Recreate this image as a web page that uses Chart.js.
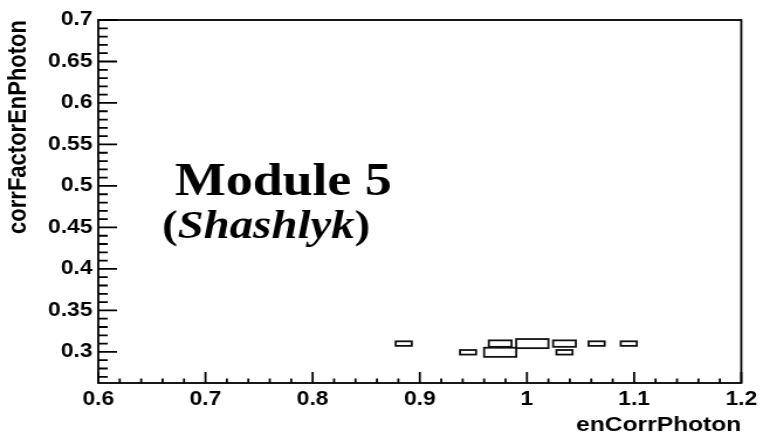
<!DOCTYPE html>
<html>
<head>
<meta charset="utf-8">
<script src="https://cdn.jsdelivr.net/npm/chart.js@4.4.0/dist/chart.umd.min.js"></script>
<style>
  html, body { margin: 0; padding: 0; background: #ffffff; overflow: hidden; }
  #c { display: block; width: 763px !important; height: 440px !important; }
</style>
</head>
<body>
<canvas id="c" width="652" height="440" style="width:763px;height:440px"></canvas>
<script>
// ---- data (TH2 box plot: bin centres and bin contents) ----
const xBinCenters = [0.885, 0.945, 0.975, 0.975, 1.005, 1.035, 1.035, 1.065, 1.095];
const yBinCenters = [0.310, 0.2995, 0.310, 0.2995, 0.310, 0.310, 0.2995, 0.310, 0.310];
const binCounts   = [1, 1, 2, 4, 4, 2, 1, 1, 1];
const xBinWidth = 0.03;
const yBinWidth = 0.011;

// ---- axes ----
const xTickValues = [0.6, 0.7, 0.8, 0.9, 1.0, 1.1, 1.2];
const xTickLabels = ['0.6', '0.7', '0.8', '0.9', '1', '1.1', '1.2'];
const yTickValues = [0.3, 0.35, 0.4, 0.45, 0.5, 0.55, 0.6, 0.65, 0.7];
const yTickLabels = ['0.3', '0.35', '0.4', '0.45', '0.5', '0.55', '0.6', '0.65', '0.7'];
const xTitle = 'enCorrPhoton';
const yTitle = 'corrFactorEnPhoton';
const noteLine1 = 'Module 5';
const noteLine2 = ['(', 'Shashlyk', ')'];

const tickFont = { family: 'Liberation Sans', weight: 'bold', size: 19.5 };

const rootFrame = {
  id: 'rootFrame',
  afterDatasetsDraw(chart) {
    const { ctx, chartArea: a, scales } = chart;
    const xs = scales.x, ys = scales.y;
    const cmax = Math.max(...binCounts);
    ctx.save();
    // boxes
    ctx.strokeStyle = '#111';
    ctx.lineWidth = 1.8;
    binCounts.forEach((c, i) => {
      const r = Math.sqrt(c / cmax);
      const x0 = xs.getPixelForValue(xBinCenters[i] - xBinWidth * r / 2);
      const x1 = xs.getPixelForValue(xBinCenters[i] + xBinWidth * r / 2);
      const y0 = ys.getPixelForValue(yBinCenters[i] + yBinWidth * r / 2);
      const y1 = ys.getPixelForValue(yBinCenters[i] - yBinWidth * r / 2);
      ctx.strokeRect(x0, y0, x1 - x0, y1 - y0);
    });
    // frame
    ctx.strokeStyle = '#000';
    ctx.lineWidth = 1.8;
    ctx.strokeRect(a.left, a.top, a.right - a.left, a.bottom - a.top);
    // y ticks (inside)
    ctx.beginPath();
    yTickValues.forEach(v => {
      const p = ys.getPixelForValue(v);
      ctx.moveTo(a.left, p); ctx.lineTo(a.left + 16, p);
    });
    for (let k = Math.ceil(ys.min / 0.01 - 1e-9); k <= Math.floor(ys.max / 0.01 + 1e-9); k++) {
      if (k % 5 === 0) continue;
      const p = ys.getPixelForValue(k * 0.01);
      ctx.moveTo(a.left, p); ctx.lineTo(a.left + 8, p);
    }
    // x ticks (inside)
    xTickValues.forEach(v => {
      const p = xs.getPixelForValue(v);
      ctx.moveTo(p, a.bottom); ctx.lineTo(p, a.bottom - 11);
    });
    for (let k = Math.ceil(xs.min / 0.02 - 1e-9); k <= Math.floor(xs.max / 0.02 + 1e-9); k++) {
      if (k % 5 === 0) continue;
      const p = xs.getPixelForValue(k * 0.02);
      ctx.moveTo(p, a.bottom); ctx.lineTo(p, a.bottom - 4.5);
    }
    ctx.stroke();
    ctx.restore();
  },
  afterDraw(chart) {
    const ctx = chart.ctx;
    ctx.save();
    ctx.fillStyle = '#000';
    ctx.textAlign = 'left';
    ctx.textBaseline = 'alphabetic';
    ctx.font = 'bold 46px "Liberation Serif"';
    ctx.fillText(noteLine1, 149.5, 195);
    let px = 138.5;
    const by = 238;
    const fonts = ['bold 40px "Liberation Serif"', 'italic bold 40px "Liberation Serif"', 'bold 40px "Liberation Serif"'];
    noteLine2.forEach((t, i) => {
      ctx.font = fonts[i];
      ctx.fillText(t, px, by);
      px += ctx.measureText(t).width;
    });
    ctx.restore();
  }
};

new Chart(document.getElementById('c'), {
  type: 'scatter',
  data: {
    datasets: [{
      label: 'entries',
      data: xBinCenters.map((x, i) => ({ x: x, y: yBinCenters[i], c: binCounts[i] })),
      pointRadius: 0,
      pointHoverRadius: 0,
      showLine: false
    }]
  },
  options: {
    responsive: false,
    devicePixelRatio: 1,
    animation: false,
    layout: { padding: { top: 20, right: 16, left: 0, bottom: 0 } },
    plugins: { legend: { display: false }, tooltip: { enabled: false } },
    scales: {
      x: {
        type: 'linear',
        min: 0.6, max: 1.2,
        afterBuildTicks: s => { s.ticks = xTickValues.map(v => ({ value: v })); },
        afterFit: s => { s.height = 57; },
        grid: { display: false, drawTicks: false },
        border: { display: false },
        ticks: {
          callback: (v, i) => xTickLabels[i],
          font: tickFont, color: '#000', padding: 5,
          autoSkip: false, maxRotation: 0, includeBounds: false
        },
        title: {
          display: true, text: xTitle, align: 'end', color: '#000',
          font: { family: 'Liberation Sans', weight: 'bold', size: 21 },
          padding: { top: 0, bottom: 2 }
        }
      },
      y: {
        type: 'linear',
        min: 0.2625, max: 0.7,
        afterBuildTicks: s => { s.ticks = yTickValues.map(v => ({ value: v })); },
        afterFit: s => { s.width = 84; },
        grid: { display: false, drawTicks: false },
        border: { display: false },
        ticks: {
          callback: (v, i) => yTickLabels[i],
          font: tickFont, color: '#000', padding: 5,
          autoSkip: false, includeBounds: false
        },
        title: {
          display: true, text: yTitle, align: 'end', color: '#000',
          font: { family: 'Liberation Sans', weight: 'bold', size: 22 },
          padding: { top: 3, bottom: 0 }
        }
      }
    }
  },
  plugins: [rootFrame]
});
</script>
</body>
</html>
